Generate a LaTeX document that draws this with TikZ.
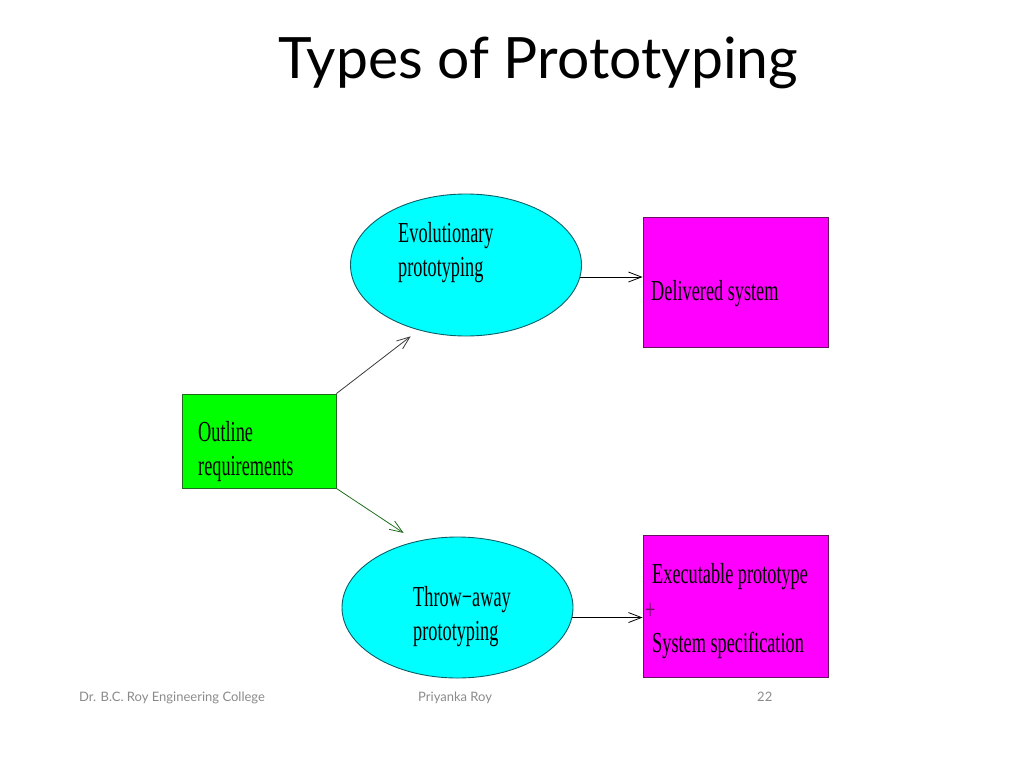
\documentclass[tikz,border=0pt]{standalone}
\usepackage{fontspec}
\setmainfont{Lato}
\newfontfamily\narrowserif[FakeStretch=0.63]{Liberation Serif}
\usetikzlibrary{shapes.geometric, arrows.meta}
\definecolor{aquafill}{HTML}{00FFFF}
\definecolor{aquaedge}{HTML}{0A5F66}
\definecolor{pinkfill}{HTML}{FF00FF}
\definecolor{pinkedge}{HTML}{6A1060}
\definecolor{limefill}{HTML}{00FF00}
\definecolor{limeedge}{HTML}{1F6A1F}
\definecolor{footgray}{HTML}{8A8A8A}
\definecolor{arrowgray}{HTML}{3A3A3A}
\definecolor{arrowgreen}{HTML}{1E6E1E}

\begin{document}
\begin{tikzpicture}[x=1pt, y=-1pt, every node/.style={inner sep=0pt},
    bubble/.style={ellipse, draw=aquaedge, fill=aquafill, line width=0.9pt, minimum width=231pt, minimum height=142pt},
    pinkbox/.style={rectangle, draw=pinkedge, fill=pinkfill, line width=0.9pt, minimum width=185pt, minimum height=130pt},
    limebox/.style={rectangle, draw=limeedge, fill=limefill, line width=0.9pt, minimum width=154pt, minimum height=94pt},
    boxtext/.style={anchor=base west, align=left, font=\narrowserif\fontsize{29}{34}\selectfont},
    foottext/.style={anchor=base west, text=footgray, font=\fontsize{13}{15}\selectfont},
    flow/.style={-{Straight Barb[length=13pt, width=10pt]}, line width=0.8pt}]
    \useasboundingbox (0,0) rectangle (1024,768);

    % Title
    \node[anchor=base, font=\fontsize{57}{60}\selectfont] (title) at (538,78) {Types of Prototyping};

    % Shapes
    \node[bubble] (evo) at (466,265) {};
    \node[bubble, minimum height=141pt] (thr) at (457.5,607.5) {};
    \node[pinkbox] (del) at (735.5,282) {};
    \node[pinkbox, minimum height=142pt] (exe) at (735.5,606) {};
    \node[limebox] (out) at (259,441) {};

    % Texts (base = last line)
    \node[boxtext] (evotxt) at (398,276) {Evolutionary\\prototyping};
    \node[boxtext] (deltxt) at (651,300) {Delivered system};
    \node[boxtext] (outtxt) at (198,475) {Outline\\requirements};
    \node[boxtext] (thrtxt) at (413,640) {Throw−away\\prototyping};
    \node[boxtext] (exetxt) at (652,583) {Executable prototype};
    \node[boxtext, text=pinkedge] (plus) at (645,619) {+};
    \node[boxtext] (spectxt) at (652,652) {System specification};

    % Connectors
    \draw[flow, arrowgray, shorten >=10pt] (out.north east) -- (evo.234);
    \draw[flow, arrowgreen, shorten >=15pt] (out.south east) -- (thr.122);
    \draw[flow] (evo.-6) -- (evo.-6 -| del.west);
    \draw[flow] (thr.-5) -- (thr.-5 -| exe.west);

    % Footer
    \node[foottext] (college) at (79,701) {Dr. B.C. Roy Engineering College};
    \node[foottext] (author) at (418,701) {Priyanka Roy};
    \node[foottext] (page) at (757,701) {22};
\end{tikzpicture}
\end{document}
